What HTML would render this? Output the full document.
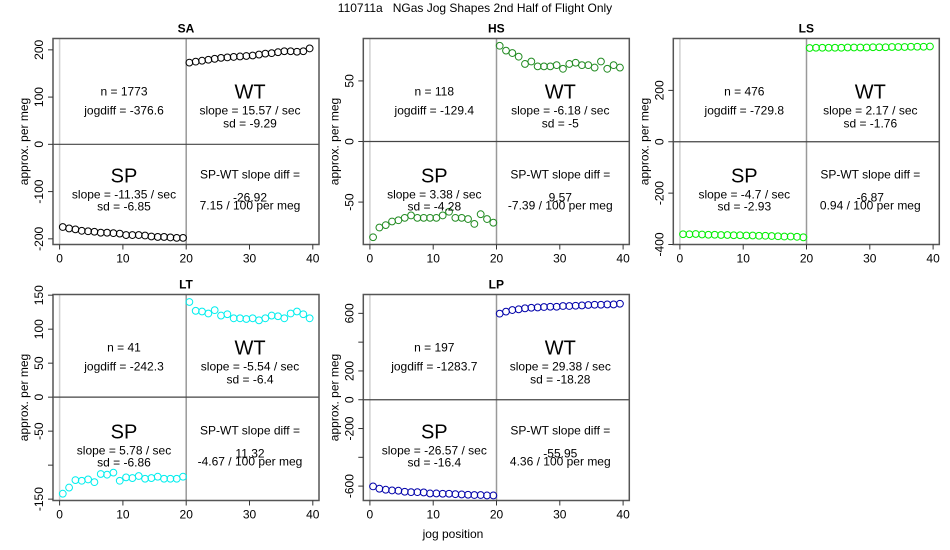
<!DOCTYPE html>
<html><head><meta charset="utf-8"><style>
body{margin:0;background:#fff}
svg{display:block;font-family:"Liberation Sans",Arial,sans-serif}
</style></head><body>
<svg id="chart" width="950" height="550" viewBox="0 0 950 550" xmlns="http://www.w3.org/2000/svg">
<text x="475" y="12" font-size="12" text-anchor="middle" xml:space="preserve" style="white-space:pre">110711a   NGas Jog Shapes 2nd Half of Flight Only</text>
<text x="453" y="538" font-size="12" text-anchor="middle">jog position</text>
</svg>
<script>
const panelNames = ["SA","HS","LS","LT","LP"];
const panelColors = ["#000000","#228b22","#00ee00","#00eeee","#0000aa"];
const wtSA = [173,175,177,179,181,183,184,185,186,187,188,190,192,193,195,197,197,196,197,203];
const spSA = [-175,-178,-180,-183,-184,-185,-187,-187,-188,-189,-192,-192,-192,-193,-195,-196,-196,-197,-198,-198];
const wtHS = [79,75,73,70,64,66,62,62,62,63,60,64,65,63,63,61,66,60,63,61];
const spHS = [-79,-71,-69,-66,-65,-63,-61,-63,-63,-63,-63,-61,-58,-63,-63,-64,-68,-60,-64,-67];
const wtLS = [365,366,366,366,366,366,367,367,367,367,368,368,368,369,369,369,370,370,370,371];
const spLS = [-360,-360,-359,-361,-362,-362,-363,-363,-364,-364,-365,-365,-366,-366,-367,-368,-369,-369,-370,-372];
const wtLT = [140,127,126,123,128,120,122,116,116,115,116,113,116,120,119,116,123,126,122,116];
const spLT = [-142,-133,-122,-123,-121,-125,-113,-114,-111,-123,-118,-119,-116,-120,-119,-117,-120,-120,-120,-117];
const wtLP = [598,612,623,628,635,639,641,644,646,646,651,651,653,655,658,660,660,662,662,667];
const spLP = [-602,-618,-625,-630,-632,-639,-642,-642,-644,-651,-651,-653,-653,-656,-658,-660,-662,-662,-665,-665];
const wtData = [wtSA,wtHS,wtLS,wtLT,wtLP];
const spData = [spSA,spHS,spLS,spLT,spLP];
const yTickVals = [[200,100,0,-100,-200],[50,0,-50],[200,0,-200,-400],[150,100,50,0,-50,-100,-150],[600,400,200,0,-200,-400,-600]];
const yTickLabels = [["200","100","0","-100","-200"],["50","0","-50"],["200","0","-200","-400"],["150","100","50","0","-50","","-150"],["600","","200","0","-200","","-600"]];
const yDomains = [[-212,224],[-85,85],[-400,402],[-152,151],[-700,731]];
const xTicks = [0,10,20,30,40];
const nText = ["1773","118","476","41","197"];
const jogText = ["-376.6","-129.4","-729.8","-242.3","-1283.7"];
const wtSlope = ["15.57","-6.18","2.17","-5.54","29.38"];
const wtSd = ["-9.29","-5","-1.76","-6.4","-18.28"];
const spSlope = ["-11.35","3.38","-4.7","5.78","-26.57"];
const spSd = ["-6.85","-4.28","-2.93","-6.86","-16.4"];
const diffText = ["-26.92","9.57","-6.87","11.32","-55.95"];
const perMeg = ["7.15","-7.39","0.94","-4.67","4.36"];

const svg = document.getElementById('chart');
const NS = "http://www.w3.org/2000/svg";
function mk(tag, attrs, parent){const e=document.createElementNS(NS,tag);for(const k in attrs)e.setAttribute(k,attrs[k]);(parent||svg).appendChild(e);return e;}
const lefts=[53,363.3,673.3], tops=[38.5,294.5];
for(let p=0;p<5;p++){
  const L=lefts[p%3], T=tops[Math.floor(p/3)], W=266, H=206, B=T+H, R=L+W;
  const g=mk('g',{});
  
  
  const xs=v=>L+6.6+v*6.33;
  const [d0,d1]=yDomains[p];
  const ys=v=>B-(v-d0)/(d1-d0)*H;
  const t=mk('text',{x:L+W/2,y:T-6,'font-size':12,'font-weight':'bold','text-anchor':'middle'},g);t.textContent=panelNames[p];
  
  
  const l0=mk('line',{x1:xs(0),x2:xs(0),y1:T,y2:B,stroke:'#d0d0d0','stroke-width':1.5},g);
  
  
  const l20=mk('line',{x1:xs(20),x2:xs(20),y1:T,y2:B,stroke:'#999','stroke-width':1.5},g);
  
  
  const lz=mk('line',{x1:L,x2:R,y1:ys(0),y2:ys(0),stroke:'#444','stroke-width':1.2},g);
  
  
  const box=mk('rect',{x:L,y:T,width:W,height:H,fill:'none',stroke:'#555','stroke-width':1.5},g);
  
  
  yTickVals[p].forEach((v,i)=>{
    const y=ys(v);
    const tk=mk('line',{x1:L-5,x2:L,y1:y,y2:y,stroke:'#333'},g);
    
    
    if(yTickLabels[p][i]){
      const tl=mk('text',{x:0,y:0,'font-size':12,'text-anchor':'middle',transform:`translate(${L-10},${y}) rotate(-90)`},g);
      tl.textContent=yTickLabels[p][i];
      
      
    }
  });
  const ya=mk('text',{x:0,y:0,'font-size':12,'text-anchor':'middle',transform:`translate(${L-25},${T+H/2}) rotate(-90)`},g);
  ya.textContent='approx. per meg';
  
  
  xTicks.forEach(v=>{
    const x=xs(v);
    const tk=mk('line',{x1:x,x2:x,y1:B,y2:B+5,stroke:'#333'},g);
    
    
    const tl=mk('text',{x:x,y:B+18,'font-size':12,'text-anchor':'middle'},g);
    tl.textContent=v;
    
    
  });
  spData[p].forEach((v,i)=>{
    const c=mk('circle',{cx:xs(i+0.5),cy:ys(v),r:3.4,fill:'none',stroke:panelColors[p],'stroke-width':1},g);
    
    
  });
  wtData[p].forEach((v,i)=>{
    const c=mk('circle',{cx:xs(i+20.5),cy:ys(v),r:3.4,fill:'none',stroke:panelColors[p],'stroke-width':1},g);
    
    
  });
  const cl=L+71, cr=L+197;
  const texts=[
    [cl,T+57,12,'n = '+nText[p],'n-label'],
    [cl,T+76,12,'jogdiff = '+jogText[p],'jogdiff-label'],
    [cr,T+60,20,'WT','wt-label'],
    [cr,T+76,12,'slope = '+wtSlope[p]+' / sec','wt-slope'],
    [cr,T+89,12,'sd = '+wtSd[p],'wt-sd'],
    [cl,T+144,20,'SP','sp-label'],
    [cl,T+160,12,'slope = '+spSlope[p]+' / sec','sp-slope'],
    [cl,T+172,12,'sd = '+spSd[p],'sp-sd'],
    [cr,T+140,12,'SP-WT slope diff =','diff-label'],
    [cr,T+163,12,diffText[p],'diff-value'],
    [cr,T+171,12,perMeg[p]+' / 100 per meg','per-meg-label']
  ];
  texts.forEach(a=>{
    const e=mk('text',{x:a[0],y:a[1],'font-size':a[2],'text-anchor':'middle'},g);
    e.textContent=a[3];
    
    
  });
}
</script>
</body></html>
